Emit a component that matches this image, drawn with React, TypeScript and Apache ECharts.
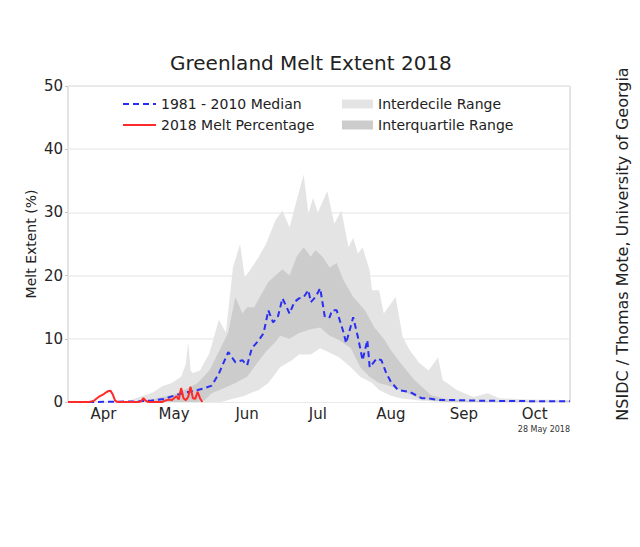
import React, { useEffect, useRef } from "react";
import * as echarts from "echarts";

// x = days since 1 April 2018
const monthLabels = ["Apr", "May", "Jun", "Jul", "Aug", "Sep", "Oct"];
const monthLabelDays = [15, 45, 76, 106, 137, 168, 198];
const monthStartDays = [30, 61, 91, 122, 153, 183];
const yTicks = [0, 10, 20, 30, 40, 50];

const median1981_2010: [number, number][] = [
  [0, 0], [10, 0], [20, 0.05], [30, 0.1], [35, 0.2], [41, 0.5], [45, 1.0], [50, 1.5],
  [55, 1.9], [58, 2.2], [61, 2.6], [64, 4.5], [68, 7.9], [71, 6.3], [74, 6.6], [76, 5.8],
  [78, 8.5], [81, 9.8], [83, 10.9], [85, 14.5], [87, 12.6], [89, 13.4], [91, 16.4],
  [94, 14], [96, 15.8], [98, 16.4], [100, 16.6], [102, 17.7], [103, 15.8], [105, 16.6],
  [107, 18], [109, 13.4], [111, 13.4], [112, 14.5], [114, 14.5], [117, 10.9], [118, 9.3],
  [121, 13.4], [123, 10.3], [125, 6.6], [127, 9.8], [128, 5.5], [131, 6.9], [133, 6.6],
  [135, 4.6], [137, 3.2], [140, 1.9], [145, 1.6], [150, 0.6], [152, 0.6], [158, 0.3],
  [165, 0.3], [175, 0.2], [190, 0.15], [213, 0.1],
];

const melt2018: [number, number][] = [
  [0, 0], [5, 0], [9, 0], [10, 0.1], [11, 0.2], [12, 0.5], [13, 0.8], [14, 1.0], [15, 1.2],
  [16, 1.5], [17, 1.7], [18, 1.8], [19, 1.2], [20, 0.2], [21, 0], [25, 0], [30, 0],
  [31, 0.1], [32, 0.6], [33, 0.2], [34, 0], [40, 0], [41, 0.2], [42, 0.3], [43, 0.4],
  [44, 0.3], [45, 0.6], [46, 0.9], [47, 0.4], [48, 2.2], [49, 0.6], [50, 0.3], [51, 0.8],
  [52, 2.4], [53, 0.6], [54, 0.5], [55, 1.6], [56, 0.6], [57, 0],
];

const upperDecile: [number, number][] = [
  [0, 0], [25, 0], [28, 0.5], [32, 1.0], [36, 1.5], [40, 2.5], [44, 3], [48, 4], [50, 6],
  [51, 9.5], [52, 5], [53, 4.6], [56, 5], [60, 7.7], [64, 13], [67, 11], [70, 21.3],
  [73, 25], [75, 19.7], [78, 21.3], [81, 23], [84, 25], [88, 28.7], [91, 30.3], [94, 27.6],
  [97, 31.9], [100, 36], [102, 29.8], [104, 32.3], [106, 30], [110, 33.4], [113, 28.2],
  [116, 30.3], [119, 24.5], [121, 26], [123, 23.5], [125, 24.5], [128, 20.8], [129, 17.7],
  [132, 17.7], [134, 14], [139, 16.6], [142, 10.3], [145, 8.2], [149, 6.2], [153, 5],
  [157, 7.1], [159, 3.5], [165, 1.9], [172, 0.8], [178, 1.4], [183, 0.6], [195, 0.4], [213, 0.3],
];

const upperQuartile: [number, number][] = [
  [0, 0], [30, 0], [35, 0.3], [40, 0.8], [45, 1.2], [50, 2], [55, 3], [60, 5], [64, 8],
  [68, 11], [71, 16.6], [74, 14], [76, 15], [79, 15], [82, 17], [85, 19], [88, 20],
  [91, 21], [94, 20], [97, 23], [100, 24.5], [103, 23], [105, 24], [108, 23], [111, 21.3],
  [114, 22], [117, 19.2], [121, 16.6], [126, 14.5], [130, 11.8], [134, 10], [137, 8.2],
  [141, 6.2], [147, 3.5], [154, 1.1], [160, 0.5], [170, 0.2], [180, 0.1], [213, 0.1],
];

const lowerQuartile: [number, number][] = [
  [0, 0], [55, 0], [58, 0.3], [61, 1.4], [65, 2], [68, 2.5], [71, 3], [76, 4], [80, 6],
  [84, 8], [88, 9.5], [90, 10.5], [94, 10], [98, 10.9], [103, 11.5], [107, 11.8],
  [111, 10.5], [115, 9.8], [120, 8.5], [124, 5.5], [128, 4.0], [132, 3.0], [137, 2.5],
  [141, 1.9], [149, 0.6], [155, 0.2], [160, 0], [213, 0],
];

const lowerDecile: [number, number][] = [
  [0, 0], [65, 0], [70, 0.5], [75, 1.0], [78, 1.5], [81, 1.9], [85, 3], [90, 5.5],
  [95, 6.6], [98, 7.5], [103, 7.5], [107, 8.5], [110, 8], [115, 7.1], [120, 5.5],
  [124, 4], [129, 3], [132, 1.9], [137, 1], [141, 0.6], [150, 0.2], [160, 0], [213, 0],
];

const FONT = "DejaVu Sans";
const DECILE_COLOR = "#e4e4e4";
const QUARTILE_COLOR = "#cccccc";

function bandSeries(name: string, data: [number, number][], color: string) {
  return {
    name,
    type: "line",
    data,
    symbol: "none",
    color,
    itemStyle: { color },
    lineStyle: { width: 0, color },
    areaStyle: { color, opacity: 1, origin: "start" },
    silent: true,
  };
}

export default function App() {
  const ref = useRef<HTMLDivElement>(null);
  useEffect(() => {
    if (!ref.current) return;
    const chart = echarts.init(ref.current, undefined, { renderer: "svg" });
    chart.setOption({
      animation: false,
      backgroundColor: "#ffffff",
      title: {
        text: "Greenland Melt Extent 2018",
        left: 170,
        top: 53,
        padding: 0,
        textStyle: { fontFamily: FONT, fontSize: 20, fontWeight: "normal", color: "#222" },
      },
      legend: [
        {
          left: 122,
          top: 97,
          padding: 0,
          orient: "vertical",
          itemWidth: 33,
          itemHeight: 12,
          itemGap: 7,
          textStyle: { fontFamily: FONT, fontSize: 14, color: "#222" },
          data: [
            { name: "1981 - 2010 Median", itemStyle: { opacity: 0 } },
            { name: "2018 Melt Percentage", itemStyle: { opacity: 0 } },
          ],
        },
        {
          left: 342,
          top: 97,
          padding: 0,
          orient: "vertical",
          itemWidth: 31,
          itemHeight: 9,
          itemGap: 7,
          textStyle: { fontFamily: FONT, fontSize: 14, color: "#222" },
          data: [
            { name: "Interdecile Range", icon: "rect" },
            { name: "Interquartile Range", icon: "rect" },
          ],
        },
      ],
      grid: {
        left: 68,
        right: 70,
        top: 86,
        bottom: 145,
        show: true,
        borderColor: "#c8c8c8",
        borderWidth: 1,
        backgroundColor: "transparent",
      },
      xAxis: {
        type: "value",
        min: 0,
        max: 213,
        axisLine: { show: false },
        splitLine: { show: false },
        axisTick: {
          show: true,
          customValues: monthStartDays,
          length: 3,
          inside: true,
          lineStyle: { color: "#aaaaaa" },
        },
        axisLabel: {
          customValues: monthLabelDays,
          formatter: (v: number) => monthLabels[monthLabelDays.indexOf(v)] ?? "",
          fontFamily: FONT,
          fontSize: 15,
          color: "#262626",
          margin: 4,
        },
      },
      yAxis: {
        type: "value",
        min: yTicks[0],
        max: yTicks[yTicks.length - 1],
        interval: 10,
        name: "Melt Extent (%)",
        nameLocation: "middle",
        nameGap: 30,
        nameMoveOverlap: false,
        nameTextStyle: { fontFamily: FONT, fontSize: 14, color: "#222" },
        axisLine: { show: false },
        axisTick: { show: true, length: 3, lineStyle: { color: "#c8c8c8" } },
        splitLine: { show: true, lineStyle: { color: "#ececec", width: 1.5 } },
        axisLabel: { fontFamily: FONT, fontSize: 15, color: "#262626", margin: 5 },
      },
      series: [
        bandSeries("Interdecile Range", upperDecile, DECILE_COLOR),
        bandSeries("Interquartile Range", upperQuartile, QUARTILE_COLOR),
        bandSeries("lowerQuartile", lowerQuartile, DECILE_COLOR),
        bandSeries("lowerDecile", lowerDecile, "#ffffff"),
        {
          name: "1981 - 2010 Median",
          type: "line",
          data: median1981_2010,
          symbol: "none",
          color: "#2a2ef0",
          lineStyle: { color: "#2a2ef0", width: 2, type: [6, 4] },
        },
        {
          name: "2018 Melt Percentage",
          type: "line",
          data: melt2018,
          symbol: "none",
          color: "#ff2a2a",
          lineStyle: { color: "#ff2a2a", width: 2 },
        },
      ],
      graphic: [
        {
          type: "text",
          x: 570,
          y: 429,
          style: {
            text: "28 May 2018",
            fontFamily: FONT,
            fontSize: 8,
            fill: "#333",
            textAlign: "right",
            textVerticalAlign: "middle",
          },
        },
        {
          type: "text",
          x: 622,
          y: 244,
          rotation: Math.PI / 2,
          style: {
            text: "NSIDC / Thomas Mote, University of Georgia",
            fontFamily: FONT,
            fontSize: 16,
            fill: "#222",
            textAlign: "center",
            textVerticalAlign: "middle",
          },
        },
      ],
    });
    return () => chart.dispose();
  }, []);
  return (
    <div
      ref={ref}
      style={{ position: "fixed", left: 0, top: 0, width: 640, height: 547 }}
    />
  );
}
